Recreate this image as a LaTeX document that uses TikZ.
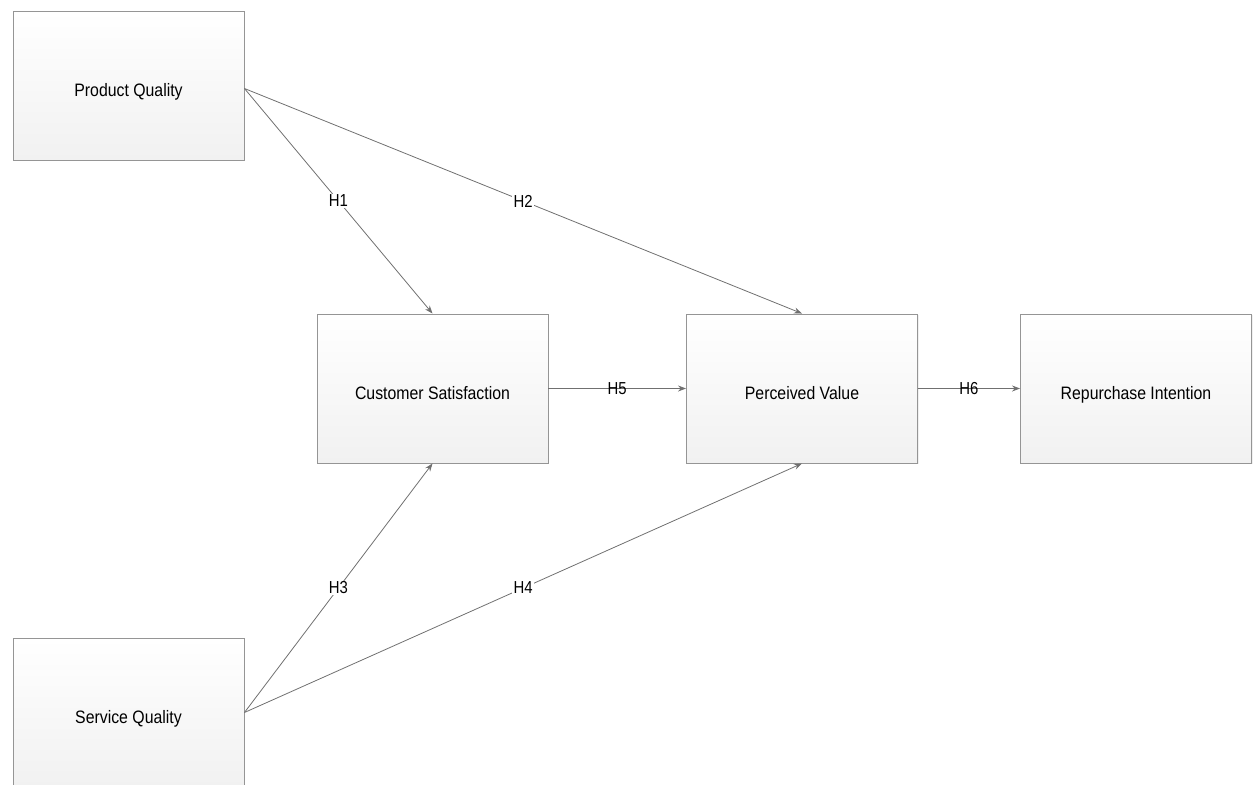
\documentclass[tikz,border=0pt]{standalone}
\usepackage{fontspec}
\setmainfont{Liberation Sans}
\usepackage{tikz}
\usetikzlibrary{arrows.meta,shadows}

\definecolor{edgegray}{HTML}{707070}
\definecolor{boxline}{HTML}{959595}

\newcommand{\boxtext}[1]{\raisebox{-8.5pt}[0pt][0pt]{#1}}

\tikzset{
  construct/.style={draw=boxline, line width=0.7pt, top color=white, bottom color=gray!11,
    minimum width=173.25pt, minimum height=111.75pt, inner sep=0pt,
    drop shadow={opacity=0.12, shadow xshift=1pt, shadow yshift=-1pt},
    font=\fontsize{13.5}{15}\selectfont\addfontfeatures{FakeStretch=0.88}},
  hyppath/.style={draw=edgegray, line width=0.6pt, -{Stealth[length=6pt,width=4.5pt]}},
  hyp/.style={fill=white, inner sep=1pt, font=\fontsize{13}{15}\selectfont\addfontfeatures{FakeStretch=0.86}},
  hypl/.style={inner sep=1pt, font=\fontsize{13}{15}\selectfont\addfontfeatures{FakeStretch=0.86}}
}

\begin{document}
\begin{tikzpicture}[x=0.75pt,y=-0.75pt]

\useasboundingbox (0,0) rectangle (1254,785);

% Constructs
\begin{scope}
\clip (0,0) rectangle (1254,785);
\node[construct] (pq) at (128.5,85.5) {\boxtext{Product Quality}};
\node[construct] (sq) at (128.5,712.5) {\boxtext{Service Quality}};
\node[construct] (cs) at (432.5,388.5) {\boxtext{Customer Satisfaction}};
\node[construct] (pv) at (802,388.5) {\boxtext{Perceived Value}};
\node[construct] (ri) at (1136,388.5) {\boxtext{Repurchase Intention}};
\end{scope}

% Hypothesised paths
\draw[hyppath] ([yshift=-2.25pt]pq.east) -- node[hyp] {H1} (cs.north);
\draw[hyppath] ([yshift=-2.25pt]pq.east) -- node[hyp] {H2} (pv.north);
\draw[hyppath] (sq.east) -- node[hyp] {H3} (cs.south);
\draw[hyppath] (sq.east) -- node[hyp] {H4} (pv.south);
\draw[hyppath] (cs.east) -- node[hypl] {H5} (pv.west);
\draw[hyppath] (pv.east) -- node[hypl] {H6} (ri.west);

\end{tikzpicture}
\end{document}
